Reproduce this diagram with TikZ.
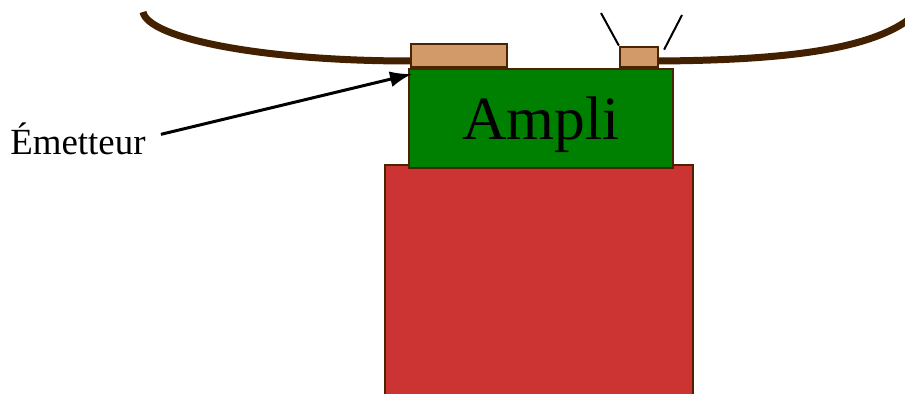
\documentclass[tikz,border=0pt]{standalone}
\usepackage{fontspec}
\setmainfont{Liberation Serif}
\usetikzlibrary{positioning, arrows.meta}

\definecolor{cablebrown}{HTML}{432100}
\definecolor{edgebrown}{HTML}{4A2400}
\definecolor{amplgreen}{HTML}{008000}
\definecolor{bodyred}{HTML}{CC3333}
\definecolor{tan}{HTML}{D29A68}

\begin{document}
\begin{tikzpicture}[
    x=0.02cm, y=-0.02cm, % one unit = one pixel of the reference
    box/.style={draw=edgebrown, line width=0.045cm, rectangle, inner sep=0pt},
    ampli_box/.style={box, fill=amplgreen, minimum width=5.28cm, minimum height=1.98cm,
                      text depth=0pt, font=\fontsize{35}{40}\selectfont},
    body_box/.style={box, fill=bodyred, minimum width=6.16cm, minimum height=4.7cm},
    tan_box/.style={box, fill=tan},
    cable/.style={draw=cablebrown, line width=0.14cm},
    antenna/.style={draw=black, line width=0.04cm}
]
\useasboundingbox (0,0) rectangle (905,394);

%%%%% Body and amplifier
\node[body_box] (body) at (539,282.5) {};
\node[ampli_box] (ampli) at (541,118.5) {Ampli};

%  Emitter and receiver on top of the amplifier
\node[tan_box, minimum width=1.92cm, minimum height=0.46cm, anchor=south west]
    (emit) at ([xshift=0.04cm]ampli.north west) {};
\node[tan_box, minimum width=0.76cm, minimum height=0.4cm, anchor=south west]
    (recv) at ([xshift=4.22cm]ampli.north west) {};

%  Cables
\draw[cable] (143,12) .. controls (148,38) and (260,61) .. (emit.west |- 0,61);
\draw[cable] (recv.east |- 0,61) .. controls (810,60) and (905,45) .. (930,-5);

%  Antenna
\coordinate (antl) at (601,13);
\coordinate (antr) at (682,15);
\draw[antenna] (recv.north west) -- (antl);
\draw[antenna] ([xshift=0.1cm,yshift=-0.08cm]recv.north east) -- (antr);

% Label
\node[anchor=base west, inner xsep=0.3cm, inner ysep=0pt, font=\fontsize{21}{24}\selectfont]
    (label) at (-5,155) {Émetteur};
\coordinate (tip) at (412,74);
\draw[-{Latex[length=0.44cm, width=0.32cm]}, line width=0.06cm] ([yshift=0.1cm]label.east) -- (tip);

\end{tikzpicture}
\end{document}
